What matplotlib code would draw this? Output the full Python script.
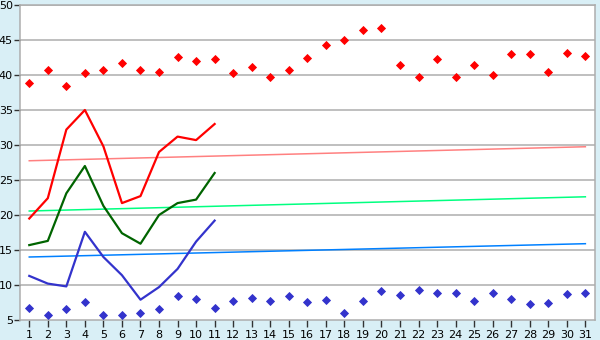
import matplotlib
matplotlib.use('Agg')
import matplotlib.pyplot as plt
import numpy as np

plt.rcParams['font.family'] = 'DejaVu Sans'
plt.rcParams['font.size'] = 8

# data
days = list(range(1, 32))
days_part = list(range(1, 12))

max_pts = [38.9, 40.7, 38.4, 40.3, 40.7, 41.7, 40.7, 40.5, 42.6, 42.0, 42.3,
           40.3, 41.1, 39.7, 40.7, 42.4, 44.3, 45.0, 46.4, 46.7, 41.4, 39.7,
           42.3, 39.7, 41.4, 40.0, 43.0, 43.0, 40.4, 43.1, 42.7]
min_pts = [6.7, 5.7, 6.6, 7.6, 5.7, 5.7, 6.0, 6.6, 8.4, 8.0, 6.7,
           7.7, 8.1, 7.7, 8.4, 7.6, 7.9, 6.0, 7.7, 9.1, 8.6, 9.3,
           8.9, 8.9, 7.7, 8.9, 8.0, 7.3, 7.4, 8.7, 8.9]

red_line = [19.5, 22.4, 32.2, 35.0, 29.8, 21.7, 22.7, 29.0, 31.2, 30.7, 33.0]
green_line = [15.7, 16.3, 23.1, 27.0, 21.3, 17.4, 15.9, 20.0, 21.7, 22.2, 26.0]
blue_line = [11.3, 10.2, 9.8, 17.6, 14.0, 11.4, 7.9, 9.7, 12.3, 16.2, 19.2]

# trend lines (start value at day 1, end value at day 31)
trend_days = [1, 31]
red_trend = [27.75, 29.75]
green_trend = [20.57, 22.6]
blue_trend = [14.0, 15.9]

bg = '#d9eff6'
fig = plt.figure(figsize=(6, 3.4), dpi=100, facecolor=bg)
ax = fig.add_axes([20 / 600, 20 / 340, 575 / 600, 315 / 340])
ax.set_facecolor('white')

for v in range(10, 51, 5):
    ax.axhline(v, color='#adadad', lw=1.1, zorder=1)

ax.plot(trend_days, red_trend, color='#ff8080', lw=1.1, zorder=2)
ax.plot(trend_days, green_trend, color='#00ff80', lw=1.1, zorder=2)
ax.plot(trend_days, blue_trend, color='#0080ff', lw=1.1, zorder=2)

ax.plot(days_part, red_line, color='#ff0000', lw=1.6, zorder=3)
ax.plot(days_part, green_line, color='#006400', lw=1.6, zorder=3)
ax.plot(days_part, blue_line, color='#3333cc', lw=1.6, zorder=3)

ax.plot(days, max_pts, ls='none', marker='D', ms=3.6, mew=0.6,
        color='#ff0000', zorder=4)
ax.plot(days, min_pts, ls='none', marker='D', ms=3.6, mew=0.6,
        color='#3333cc', zorder=4)

ax.set_xlim(0.5, 31.52)
ax.set_ylim(5, 50)
ax.set_xticks(days)
ax.set_yticks(np.arange(5, 51, 5))
ax.tick_params(axis='x', length=5, width=1, color='#333333', pad=2)
ax.tick_params(axis='y', length=4, width=1, color='#333333', pad=1)
for s in ax.spines.values():
    s.set_color('#adadad')
    s.set_linewidth(1.1)

fig.savefig('out.png', dpi=100, facecolor=bg)
